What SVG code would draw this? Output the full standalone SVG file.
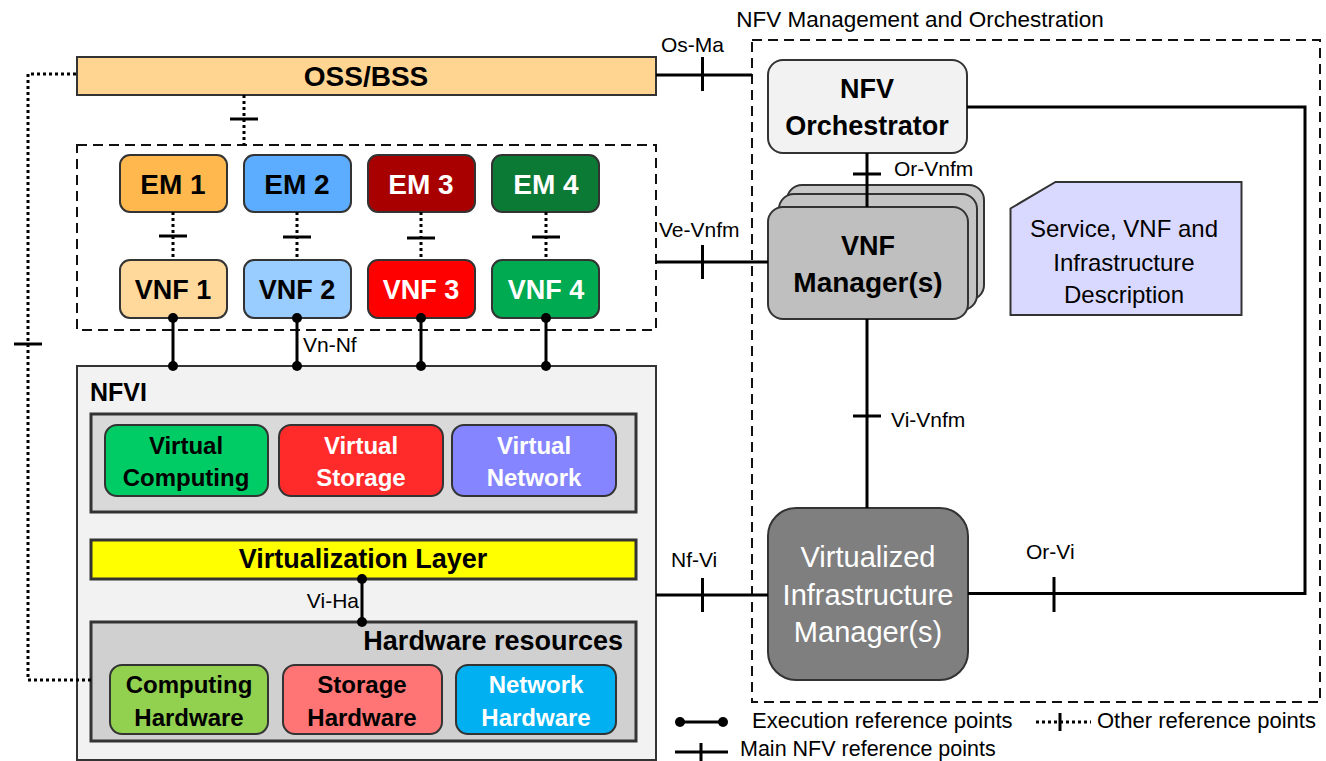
<svg xmlns="http://www.w3.org/2000/svg" width="1326" height="761" viewBox="0 0 1326 761">
<style>
text{font-family:"Liberation Sans",Arial,sans-serif;text-anchor:middle}
.b{font-weight:bold}
.lbl{font-size:21px;text-anchor:start}
.box{stroke:#333;stroke-width:2}
.cont{fill:#D9D9D9;stroke:#333;stroke-width:3}
.dash{fill:none;stroke:#111;stroke-width:2;stroke-dasharray:10 6}
.ln{stroke:#000;stroke-width:3;fill:none}
.dt{stroke:#000;stroke-width:3;fill:none;stroke-dasharray:3 3}
.ep{fill:#000}
.w{fill:#fff}
.t28{font-size:28px}
.t27{font-size:27px}
.t24{font-size:24px}
</style>

<!-- containers -->
<g id="vnf-domain">
  <rect x="77" y="145" width="579" height="185" fill="#D9D9D9" class="dash"/>
</g>
<g id="nfvi">
  <rect x="77" y="366" width="579" height="394" fill="#F2F2F2" stroke="#333" stroke-width="2"/>
  <text x="90" y="401" class="b" font-size="25" style="text-anchor:start">NFVI</text>
  <rect id="virtual-resources" x="91" y="414" width="545" height="98" class="cont"/>
  <rect id="hardware-resources" x="91" y="622" width="545" height="119" class="cont" style="fill:#D0D0D0"/>
  <text x="623" y="650" class="b t27" style="text-anchor:end">Hardware resources</text>
</g>
<g id="mano">
  <rect x="752" y="40" width="568" height="662" class="dash"/>
  <text x="920" y="27" font-size="22.5">NFV Management and Orchestration</text>
</g>

<!-- nodes -->
<g id="oss-bss">
  <rect x="77" y="57" width="579" height="38" fill="#FFD591" class="box"/>
  <text x="366" y="86" class="b t28">OSS/BSS</text>
</g>
<g id="em1"><rect x="120" y="155" width="107" height="57" rx="10" fill="#FFB84D" class="box"/><text x="173" y="194" class="b t28">EM 1</text></g>
<g id="em2"><rect x="244" y="155" width="107" height="57" rx="10" fill="#5CACFF" class="box"/><text x="297" y="194" class="b t28">EM 2</text></g>
<g id="em3"><rect x="368" y="155" width="107" height="57" rx="10" fill="#A80000" class="box"/><text x="421" y="194" class="b t28 w">EM 3</text></g>
<g id="em4"><rect x="492" y="155" width="107" height="57" rx="10" fill="#0B7A34" class="box"/><text x="546" y="194" class="b t28 w">EM 4</text></g>
<g id="vnf1"><rect x="120" y="260" width="107" height="58" rx="10" fill="#FFD99C" class="box"/><text x="173" y="299" class="b t27">VNF 1</text></g>
<g id="vnf2"><rect x="244" y="260" width="107" height="58" rx="10" fill="#99CCFF" class="box"/><text x="297" y="299" class="b t27">VNF 2</text></g>
<g id="vnf3"><rect x="368" y="260" width="107" height="58" rx="10" fill="#FF0000" class="box"/><text x="421" y="299" class="b t27 w">VNF 3</text></g>
<g id="vnf4"><rect x="492" y="260" width="107" height="58" rx="10" fill="#00AA50" class="box"/><text x="546" y="299" class="b t27 w">VNF 4</text></g>

<g id="virtual-computing"><rect x="105" y="425" width="163" height="71" rx="12" fill="#00CC66" class="box"/><text x="186" y="454" class="b t24">Virtual</text><text x="186" y="486" class="b t24">Computing</text></g>
<g id="virtual-storage"><rect x="279" y="425" width="164" height="71" rx="12" fill="#FF2B2B" class="box"/><text x="361" y="454" class="b t24 w">Virtual</text><text x="361" y="486" class="b t24 w">Storage</text></g>
<g id="virtual-network"><rect x="452" y="425" width="164" height="71" rx="12" fill="#8585FF" class="box"/><text x="534" y="454" class="b t24 w">Virtual</text><text x="534" y="486" class="b t24 w">Network</text></g>
<g id="virtualization-layer"><rect x="91" y="540" width="545" height="39" fill="#FFFF00" stroke="#333" stroke-width="3"/><text x="363" y="568" class="b t27">Virtualization Layer</text></g>
<g id="computing-hw"><rect x="110" y="665" width="158" height="69" rx="12" fill="#92D050" class="box"/><text x="189" y="693" class="b t24">Computing</text><text x="189" y="726" class="b t24">Hardware</text></g>
<g id="storage-hw"><rect x="283" y="665" width="159" height="69" rx="12" fill="#FF7575" class="box"/><text x="362" y="693" class="b t24">Storage</text><text x="362" y="726" class="b t24">Hardware</text></g>
<g id="network-hw"><rect x="456" y="665" width="160" height="69" rx="12" fill="#00B0F0" class="box"/><text x="536" y="693" class="b t24 w">Network</text><text x="536" y="726" class="b t24 w">Hardware</text></g>

<g id="nfv-orchestrator"><rect x="768" y="60" width="199" height="93" rx="15" fill="#F2F2F2" class="box"/><text x="867" y="98" class="b t27">NFV</text><text x="867" y="135" class="b t27">Orchestrator</text></g>
<g id="vnf-manager">
  <rect x="787" y="185" width="197" height="115" rx="15" fill="#C8C8C8" class="box"/>
  <rect x="779" y="194" width="198" height="116" rx="15" fill="#C4C4C4" class="box"/>
  <rect x="768" y="207" width="200" height="112" rx="15" fill="#BFBFBF" class="box"/>
  <text x="868" y="255" class="b t27">VNF</text><text x="868" y="292" class="b t28">Manager(s)</text>
</g>
<g id="description">
  <path d="M1055.5 182 H1241.5 V315 H1010.5 V208.5 Z" fill="#D9D9FF" stroke="#333" stroke-width="2"/>
  <text x="1124" y="237" font-size="24">Service, VNF and</text>
  <text x="1124" y="271" font-size="24">Infrastructure</text>
  <text x="1124" y="303" font-size="24">Description</text>
</g>
<g id="vim">
  <rect x="768" y="508" width="200" height="172" rx="28" fill="#7F7F7F" class="box"/>
  <text x="868" y="567" font-size="29" class="w">Virtualized</text>
  <text x="868" y="605" font-size="29" class="w">Infrastructure</text>
  <text x="868" y="642" font-size="29" class="w">Manager(s)</text>
</g>

<!-- connectors -->
<g id="connectors">
  <path class="dt" d="M76 74 H28 V680 H91"/>
  <path class="ln" d="M14 344 H42"/>
  <path class="dt" d="M244 95 V145"/>
  <path class="ln" d="M230 119 H258"/>
  <path class="dt" d="M173 212 V260"/><path class="ln" d="M159 236 H187"/>
  <path class="dt" d="M297 212 V260"/><path class="ln" d="M283 237 H311"/>
  <path class="dt" d="M421 212 V260"/><path class="ln" d="M407 238 H435"/>
  <path class="dt" d="M546 212 V260"/><path class="ln" d="M532 237 H560"/>

  <path class="ln" d="M173 318 V366 M297 318 V366 M421 318 V366 M546 318 V366"/>
  <g class="ep">
    <circle cx="173" cy="318" r="5"/><circle cx="297" cy="318" r="5"/><circle cx="421" cy="318" r="5"/><circle cx="546" cy="318" r="5"/>
    <circle cx="173" cy="366" r="5"/><circle cx="297" cy="366" r="5"/><circle cx="421" cy="366" r="5"/><circle cx="546" cy="366" r="5"/>
  </g>
  <text x="303" y="352" class="lbl">Vn-Nf</text>

  <path class="ln" d="M362 579 V622"/>
  <circle class="ep" cx="362" cy="579" r="5"/><circle class="ep" cx="362" cy="622" r="5"/>
  <text x="359" y="608" class="lbl" style="text-anchor:end">Vi-Ha</text>

  <path class="ln" d="M656 75 H752 M702.5 57 V91"/>
  <text x="661" y="52" class="lbl">Os-Ma</text>

  <path class="ln" d="M656 262 H768 M702.5 245 V279"/>
  <text x="659" y="237" class="lbl">Ve-Vnfm</text>

  <path class="ln" d="M656 595 H768 M702.5 578 V612"/>
  <text x="671" y="567" class="lbl">Nf-Vi</text>

  <path class="ln" d="M867 153 V207 M853 174 H881"/>
  <text x="894" y="176" class="lbl">Or-Vnfm</text>

  <path class="ln" d="M867 319 V508 M853 416 H881"/>
  <text x="891" y="427" class="lbl">Vi-Vnfm</text>

  <path class="ln" d="M967 107 H1305 V593.5 H968 M1054 577 V612"/>
  <text x="1026" y="559" class="lbl">Or-Vi</text>
</g>

<!-- legend -->
<g id="legend">
  <path class="ln" d="M680 722 H723"/>
  <circle class="ep" cx="680" cy="722" r="5"/><circle class="ep" cx="723" cy="722" r="5"/>
  <text x="752" y="728" font-size="22" style="text-anchor:start">Execution reference points</text>
  <path class="dt" d="M1036 722 H1091"/>
  <path class="ln" d="M1060 713 V731"/>
  <text x="1097" y="728" font-size="22" style="text-anchor:start">Other reference points</text>
  <path class="ln" d="M675 752 H728 M701 743 V761"/>
  <text x="740" y="756" font-size="21.5" style="text-anchor:start">Main NFV reference points</text>
</g>
</svg>
